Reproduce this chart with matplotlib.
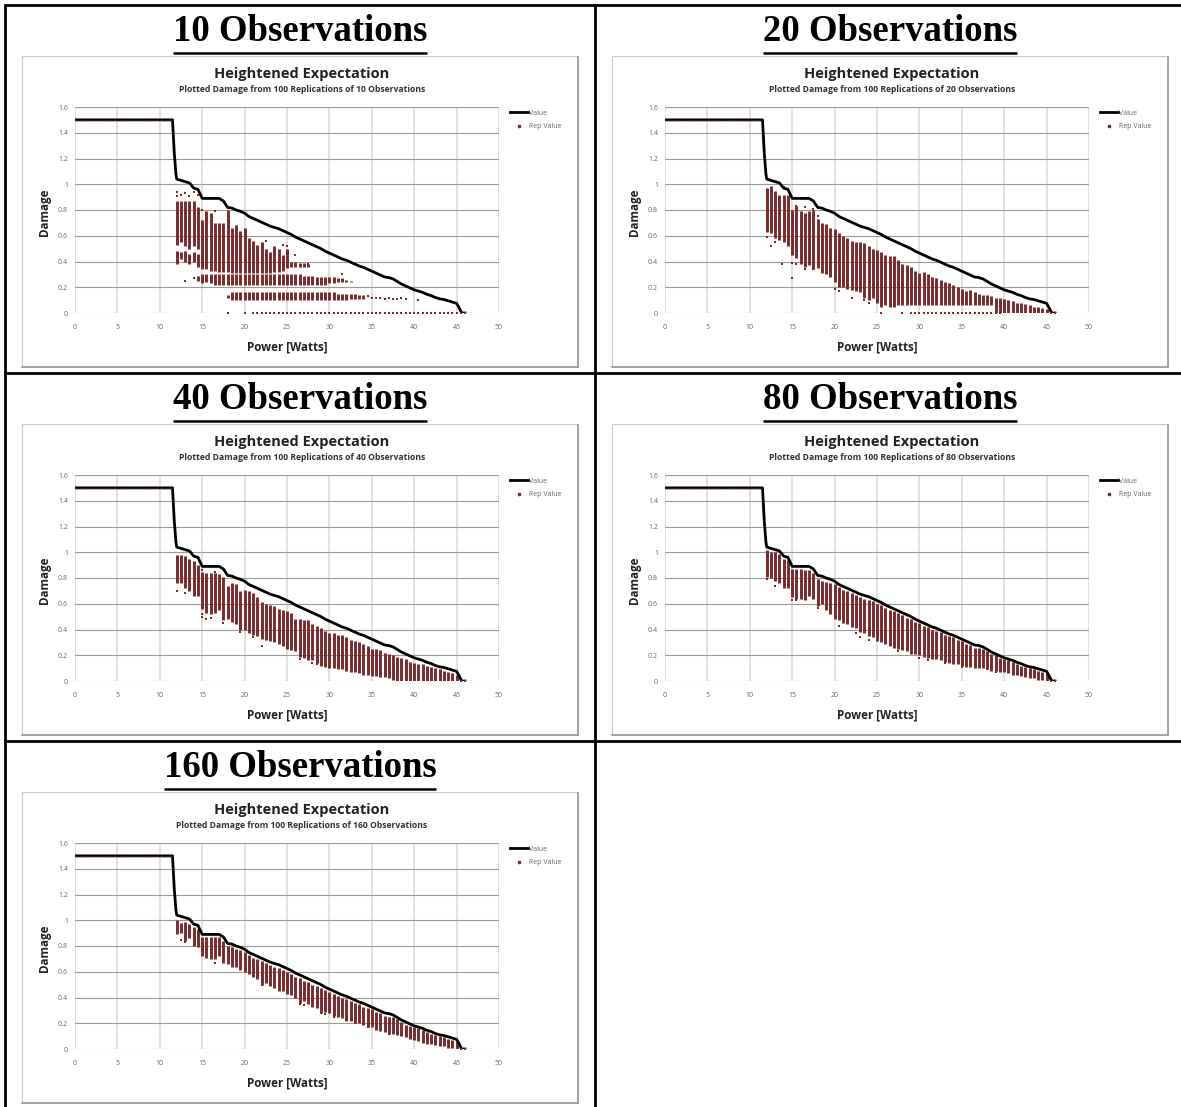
import matplotlib
matplotlib.use("Agg")
import matplotlib.pyplot as plt
from matplotlib.lines import Line2D
from matplotlib.patches import Rectangle

# figure size in pixels (dpi 100)
W, H = 1181, 1107

panel_titles = ["10 Observations", "20 Observations", "40 Observations",
                "80 Observations", "160 Observations"]
obs_counts = [10, 20, 40, 80, 160]

# true damage curve ("Value")
value_x = [0, 11.5, 11.7, 11.9,
           12.0, 12.5, 13.0, 13.5, 14.0, 14.5, 15.0, 15.5, 16.0, 16.5,
           17.0, 17.5, 18.0, 18.5, 19.0, 19.5, 20.0, 20.5, 21.0, 21.5,
           22.0, 22.5, 23.0, 23.5, 24.0, 24.5, 25.0, 25.5, 26.0, 26.5,
           27.0, 27.5, 28.0, 28.5, 29.0, 29.5, 30.0, 30.5, 31.0, 31.5,
           32.0, 32.5, 33.0, 33.5, 34.0, 34.5, 35.0, 35.5, 36.0, 36.5,
           37.0, 37.5, 38.0, 38.5, 39.0, 39.5, 40.0, 40.5, 41.0, 41.5,
           42.0, 42.5, 43.0, 43.5, 44.0, 44.5, 45.0, 45.3, 45.6, 46.0]
value_y = [1.5, 1.5, 1.25, 1.08,
           1.04, 1.03, 1.02, 1.01, 0.97, 0.96, 0.89, 0.89, 0.89, 0.89,
           0.89, 0.87, 0.82, 0.815, 0.80, 0.79, 0.775, 0.75, 0.735, 0.72,
           0.705, 0.69, 0.675, 0.665, 0.655, 0.64, 0.625, 0.61, 0.59, 0.575,
           0.56, 0.545, 0.53, 0.515, 0.50, 0.48, 0.465, 0.45, 0.435, 0.42,
           0.41, 0.395, 0.38, 0.365, 0.355, 0.34, 0.325, 0.31, 0.295, 0.28,
           0.275, 0.265, 0.245, 0.225, 0.21, 0.195, 0.18, 0.17, 0.16, 0.145,
           0.135, 0.12, 0.11, 0.105, 0.095, 0.085, 0.075, 0.04, 0.0, 0.0]

# flat part where all replications give 1.5, and the tail at 0
flat_x = [0, 11.5]
flat_y = [1.5, 1.5]
tail_x = [45.5, 46.0]
tail_y = [0.0, 0.0]

# column positions of replicated values
col_x = [12.0, 12.5, 13.0, 13.5, 14.0, 14.5, 15.0, 15.5, 16.0, 16.5,
         17.0, 17.5, 18.0, 18.5, 19.0, 19.5, 20.0, 20.5, 21.0, 21.5,
         22.0, 22.5, 23.0, 23.5, 24.0, 24.5, 25.0, 25.5, 26.0, 26.5,
         27.0, 27.5, 28.0, 28.5, 29.0, 29.5, 30.0, 30.5, 31.0, 31.5,
         32.0, 32.5, 33.0, 33.5, 34.0, 34.5, 35.0, 35.5, 36.0, 36.5,
         37.0, 37.5, 38.0, 38.5, 39.0, 39.5, 40.0, 40.5, 41.0, 41.5,
         42.0, 42.5, 43.0, 43.5, 44.0, 44.5, 45.0, 45.5]

# ---- 10 observations: banded clusters ----
c10a_x = col_x[:32]
hi10a = [0.87, 0.87, 0.87, 0.87, 0.87, 0.82, 0.72, 0.79, 0.78, 0.70,
         0.70, 0.70, 0.80, 0.66, 0.68, 0.64, 0.66, 0.58, 0.56, 0.53,
         0.55, 0.50, 0.47, 0.52, 0.50, 0.45, 0.50, 0.40, 0.40, 0.39,
         0.39, 0.38]
lo10a = [0.53, 0.55, 0.52, 0.50, 0.52, 0.50, 0.34, 0.34, 0.33, 0.33,
         0.32, 0.32, 0.32, 0.31, 0.31, 0.31, 0.31, 0.31, 0.31, 0.31,
         0.31, 0.31, 0.31, 0.32, 0.32, 0.33, 0.35, 0.36, 0.36, 0.36,
         0.36, 0.36]
c10s_x = col_x[:6]
hi10s = [0.48, 0.47, 0.48, 0.46, 0.47, 0.46]
lo10s = [0.38, 0.42, 0.40, 0.38, 0.40, 0.36]
c10b_x = col_x[5:42]
hi10b = [0.29, 0.30, 0.30, 0.30, 0.30, 0.30, 0.30, 0.30, 0.30, 0.30,
         0.30, 0.30, 0.30, 0.30, 0.30, 0.30, 0.30, 0.30, 0.30, 0.30,
         0.30, 0.30, 0.30, 0.30, 0.30, 0.29, 0.29, 0.29, 0.28, 0.28,
         0.28, 0.28, 0.28, 0.27, 0.27, 0.26, 0.25]
lo10b = [0.25, 0.23, 0.24, 0.23, 0.22, 0.22, 0.22, 0.22, 0.22, 0.22,
         0.22, 0.22, 0.22, 0.22, 0.22, 0.22, 0.22, 0.22, 0.22, 0.22,
         0.22, 0.22, 0.22, 0.22, 0.22, 0.22, 0.22, 0.22, 0.22, 0.22,
         0.22, 0.23, 0.23, 0.24, 0.24, 0.24, 0.24]
c10c_x = col_x[12:45]
hi10c = [0.14, 0.16, 0.16, 0.16, 0.16, 0.16, 0.16, 0.16, 0.16, 0.16,
         0.16, 0.16, 0.16, 0.16, 0.16, 0.16, 0.16, 0.16, 0.16, 0.16,
         0.16, 0.16, 0.16, 0.16, 0.16, 0.16, 0.15, 0.15, 0.15, 0.15,
         0.15, 0.14, 0.14]
lo10c = [0.12, 0.10, 0.10, 0.10, 0.10, 0.10, 0.10, 0.10, 0.10, 0.10,
         0.10, 0.10, 0.10, 0.10, 0.10, 0.10, 0.10, 0.10, 0.10, 0.10,
         0.10, 0.10, 0.10, 0.10, 0.10, 0.10, 0.10, 0.10, 0.10, 0.11,
         0.11, 0.11, 0.11]
dots10_x = [12.0, 12.0, 12.5, 13.0, 13.5, 14.0, 14.5, 15.0, 15.5, 16.5,
            13.0, 14.0, 22.5, 24.5, 25.0, 26.0, 27.5, 31.5,
            34.5, 35.0, 35.5, 36.0, 36.5, 37.0, 37.5, 38.0, 38.5, 39.0, 40.5]
dots10_y = [0.94, 0.91, 0.92, 0.93, 0.91, 0.94, 0.92, 0.80, 0.78, 0.79,
            0.25, 0.27, 0.56, 0.53, 0.52, 0.45, 0.38, 0.30,
            0.13, 0.12, 0.12, 0.12, 0.11, 0.12, 0.11, 0.11, 0.12, 0.11, 0.10]
zero10_x = [18.0, 20.0, 21.0, 21.5, 22.0, 22.5, 23.0, 23.5, 24.0, 24.5,
            25.0, 25.5, 26.0, 26.5, 27.0, 27.5, 28.0, 28.5, 29.0, 29.5,
            30.0, 30.5, 31.0, 31.5, 32.0, 32.5, 33.0, 33.5, 34.0, 34.5,
            35.0, 35.5, 36.0, 36.5, 37.0, 37.5, 38.0, 38.5, 39.0, 39.5,
            40.0, 40.5, 41.0, 41.5, 42.0, 42.5, 43.0, 43.5, 44.0, 44.5, 45.0]

# ---- 20 observations ----
hi20 = [0.97, 0.99, 0.95, 0.92, 0.92, 0.92, 0.80, 0.83, 0.79, 0.78,
        0.79, 0.80, 0.73, 0.70, 0.69, 0.66, 0.65, 0.62, 0.60, 0.58,
        0.56, 0.55, 0.55, 0.54, 0.52, 0.50, 0.49, 0.47, 0.45, 0.44,
        0.44, 0.41, 0.38, 0.37, 0.36, 0.33, 0.31, 0.32, 0.30, 0.28,
        0.27, 0.26, 0.24, 0.23, 0.22, 0.20, 0.19, 0.17, 0.18, 0.16,
        0.15, 0.14, 0.14, 0.13, 0.12, 0.12, 0.11, 0.10, 0.09, 0.08,
        0.08, 0.07, 0.06, 0.05, 0.05, 0.04, 0.03, 0.01]
lo20 = [0.63, 0.62, 0.58, 0.57, 0.55, 0.52, 0.45, 0.43, 0.38, 0.36,
        0.37, 0.34, 0.35, 0.31, 0.30, 0.28, 0.24, 0.20, 0.20, 0.19,
        0.18, 0.17, 0.16, 0.12, 0.10, 0.12, 0.08, 0.05, 0.06, 0.05,
        0.05, 0.06, 0.06, 0.06, 0.06, 0.06, 0.06, 0.06, 0.06, 0.06,
        0.06, 0.06, 0.06, 0.06, 0.06, 0.06, 0.06, 0.06, 0.06, 0.06,
        0.06, 0.06, 0.06, 0.06, 0.00, 0.00, 0.00, 0.00, 0.00, 0.00,
        0.00, 0.00, 0.00, 0.00, 0.00, 0.00, 0.00, 0.00]
dots20_x = [12.0, 12.5, 13.0, 13.8, 15.0, 15.0, 15.5, 16.5, 17.5, 14.0,
            15.5, 16.5, 17.5, 18.0, 20.0, 20.5, 22.0, 23.5, 24.0, 25.5]
dots20_y = [0.59, 0.52, 0.55, 0.38, 0.39, 0.27, 0.38, 0.34, 0.34, 0.98,
            0.83, 0.82, 0.81, 0.75, 0.19, 0.17, 0.12, 0.10, 0.08, 0.0]
zero20_x = [28.0, 29.0, 29.5, 30.0, 30.5, 31.0, 31.5, 32.0, 32.5, 33.0,
            33.5, 34.0, 34.5, 35.0, 35.5, 36.0, 36.5, 37.0, 37.5, 38.0,
            38.5, 39.0, 39.5]

# ---- 40 observations ----
hi40 = [0.98, 0.98, 0.97, 0.95, 0.93, 0.90, 0.85, 0.84, 0.84, 0.84,
        0.83, 0.81, 0.74, 0.76, 0.75, 0.70, 0.71, 0.70, 0.68, 0.65,
        0.61, 0.60, 0.59, 0.58, 0.56, 0.55, 0.54, 0.53, 0.48, 0.48,
        0.47, 0.47, 0.44, 0.43, 0.41, 0.39, 0.37, 0.37, 0.36, 0.36,
        0.34, 0.32, 0.31, 0.30, 0.29, 0.27, 0.25, 0.25, 0.24, 0.22,
        0.21, 0.20, 0.19, 0.18, 0.17, 0.15, 0.14, 0.13, 0.13, 0.12,
        0.11, 0.10, 0.09, 0.08, 0.07, 0.06, 0.05, 0.01]
lo40 = [0.76, 0.76, 0.72, 0.70, 0.66, 0.66, 0.56, 0.53, 0.52, 0.53,
        0.55, 0.47, 0.48, 0.46, 0.44, 0.40, 0.40, 0.37, 0.36, 0.35,
        0.33, 0.32, 0.31, 0.30, 0.29, 0.27, 0.25, 0.24, 0.23, 0.19,
        0.18, 0.16, 0.16, 0.14, 0.12, 0.11, 0.10, 0.10, 0.09, 0.09,
        0.08, 0.07, 0.07, 0.06, 0.05, 0.05, 0.04, 0.04, 0.03, 0.03,
        0.02, 0.01, 0.00, 0.00, 0.00, 0.00, 0.00, 0.00, 0.00, 0.00,
        0.00, 0.00, 0.00, 0.00, 0.00, 0.00, 0.00, 0.00]
dots40_x = [12.0, 13.0, 15.0, 15.0, 15.5, 16.0, 17.5, 19.5, 21.0, 22.0,
            26.5, 28.0, 28.5, 15.0, 16.5]
dots40_y = [0.70, 0.68, 0.52, 0.50, 0.48, 0.49, 0.45, 0.38, 0.34, 0.27,
            0.17, 0.14, 0.13, 0.86, 0.85]

# ---- 80 observations ----
hi80 = [1.02, 1.00, 1.00, 0.99, 0.95, 0.94, 0.87, 0.87, 0.87, 0.86,
        0.86, 0.84, 0.79, 0.78, 0.77, 0.76, 0.75, 0.73, 0.71, 0.70,
        0.68, 0.67, 0.65, 0.64, 0.63, 0.62, 0.60, 0.59, 0.57, 0.55,
        0.54, 0.53, 0.51, 0.49, 0.48, 0.46, 0.45, 0.43, 0.42, 0.40,
        0.39, 0.38, 0.36, 0.35, 0.34, 0.32, 0.31, 0.29, 0.28, 0.26,
        0.26, 0.25, 0.23, 0.21, 0.20, 0.18, 0.17, 0.16, 0.15, 0.13,
        0.12, 0.11, 0.10, 0.09, 0.08, 0.07, 0.06, 0.01]
lo80 = [0.81, 0.80, 0.78, 0.76, 0.72, 0.72, 0.65, 0.64, 0.64, 0.63,
        0.66, 0.64, 0.58, 0.60, 0.55, 0.52, 0.48, 0.47, 0.45, 0.44,
        0.42, 0.41, 0.38, 0.37, 0.35, 0.34, 0.31, 0.30, 0.29, 0.27,
        0.26, 0.25, 0.24, 0.23, 0.21, 0.21, 0.20, 0.19, 0.18, 0.17,
        0.17, 0.16, 0.15, 0.14, 0.13, 0.13, 0.12, 0.11, 0.11, 0.10,
        0.10, 0.10, 0.09, 0.08, 0.08, 0.07, 0.07, 0.06, 0.05, 0.05,
        0.04, 0.03, 0.02, 0.02, 0.01, 0.01, 0.00, 0.00]
dots80_x = [12.0, 13.0, 15.0, 15.5, 18.0, 19.5, 20.0, 20.5, 22.5, 23.0,
            24.0, 26.5, 27.5, 30.0, 31.0, 33.0, 35.0, 38.0, 39.0]
dots80_y = [0.79, 0.74, 0.63, 0.63, 0.57, 0.55, 0.51, 0.43, 0.37, 0.34,
            0.32, 0.29, 0.23, 0.18, 0.16, 0.14, 0.11, 0.09, 0.07]

# ---- 160 observations ----
hi160 = [1.00, 0.98, 0.99, 0.97, 0.95, 0.93, 0.87, 0.87, 0.87, 0.87,
         0.87, 0.84, 0.80, 0.79, 0.78, 0.77, 0.75, 0.73, 0.71, 0.70,
         0.68, 0.67, 0.65, 0.64, 0.63, 0.61, 0.60, 0.58, 0.56, 0.55,
         0.53, 0.52, 0.50, 0.49, 0.47, 0.46, 0.44, 0.43, 0.41, 0.40,
         0.39, 0.37, 0.36, 0.35, 0.33, 0.32, 0.31, 0.29, 0.28, 0.26,
         0.25, 0.25, 0.23, 0.21, 0.19, 0.18, 0.17, 0.16, 0.15, 0.13,
         0.12, 0.11, 0.10, 0.09, 0.08, 0.07, 0.06, 0.01]
lo160 = [0.89, 0.90, 0.84, 0.86, 0.80, 0.79, 0.72, 0.71, 0.70, 0.70,
         0.72, 0.67, 0.66, 0.64, 0.64, 0.61, 0.60, 0.58, 0.56, 0.54,
         0.50, 0.51, 0.49, 0.47, 0.45, 0.45, 0.43, 0.42, 0.40, 0.36,
         0.37, 0.35, 0.33, 0.32, 0.28, 0.29, 0.28, 0.26, 0.25, 0.24,
         0.22, 0.22, 0.20, 0.20, 0.19, 0.17, 0.17, 0.15, 0.14, 0.13,
         0.12, 0.12, 0.11, 0.10, 0.09, 0.08, 0.07, 0.06, 0.05, 0.04,
         0.04, 0.03, 0.02, 0.02, 0.01, 0.01, 0.00, 0.00]
dots160_x = [12.5, 13.0, 16.5, 22.0, 26.5, 27.0, 29.0, 29.5, 30.5, 32.0,
             33.0, 34.5, 37.0, 39.5]
dots160_y = [0.85, 0.83, 0.67, 0.50, 0.35, 0.34, 0.28, 0.27, 0.25, 0.23,
             0.20, 0.17, 0.12, 0.09]

REP = "#7a2a2a"
CHART_FONT = ["Open Sans", "DejaVu Sans"]
BAR_LW = 2.1

fig = plt.figure(figsize=(W / 100, H / 100), dpi=100)

# background layer: table grid and chart frames (pixel coordinates)
bg = fig.add_axes([0, 0, 1, 1])
bg.set_xlim(0, W)
bg.set_ylim(H, 0)
bg.axis("off")
for y in [5, 373, 741]:
    bg.plot([4, W], [y, y], color="black", lw=2.0, solid_capstyle="butt")
bg.plot([5, 5], [4, H], color="black", lw=2.0, solid_capstyle="butt")
bg.plot([595, 595], [4, H], color="black", lw=2.0, solid_capstyle="butt")


def px_rect(l, t, r, b):
    return [l / W, 1 - b / H, (r - l) / W, (b - t) / H]


def draw_panel(idx, col, row):
    dx = col * 590
    dy = row * 368
    # chart frame with a light shadow
    bg.add_patch(Rectangle((22 + dx, 56 + dy), 556, 311, fill=False,
                           ec="#c8c8c8", lw=0.8))
    bg.plot([578 + dx, 578 + dx], [57 + dy, 367 + dy], color="#a0a0a0", lw=1.3)
    bg.plot([22 + dx, 578 + dx], [367 + dy, 367 + dy], color="#a0a0a0", lw=1.3)

    # header above the chart, underlined
    t = fig.text((300 + dx) / W, 1 - (41 + dy) / H, panel_titles[idx],
                 ha="center", va="baseline", fontsize=26.5, fontweight="bold",
                 family="Liberation Serif")
    r = fig.canvas.get_renderer()
    bb = t.get_window_extent(renderer=r)
    bg.plot([bb.x0, bb.x1], [H - bb.y0 + 4, H - bb.y0 + 4],
            color="black", lw=1.8, solid_capstyle="butt")

    ax = fig.add_axes(px_rect(75 + dx, 107 + dy, 499 + dx, 313 + dy))
    ax.set_facecolor("none")
    ax.set_xlim(0, 50)
    ax.set_ylim(0, 1.6)
    ax.set_xticks([0, 5, 10, 15, 20, 25, 30, 35, 40, 45, 50])
    ax.set_yticks([0, 0.2, 0.4, 0.6, 0.8, 1.0, 1.2, 1.4, 1.6])
    ax.set_yticklabels(["0", "0.2", "0.4", "0.6", "0.8", "1", "1.2", "1.4", "1.6"])
    ax.tick_params(length=0, labelsize=5.0, labelcolor="#666666")
    ax.tick_params(axis="x", pad=8)
    ax.tick_params(axis="y", pad=5)
    for s in ax.spines.values():
        s.set_visible(False)
    ax.grid(axis="y", color="#9a9a9a", lw=0.8)
    ax.grid(axis="x", color="#d8d8d8", lw=1.1)
    ax.set_axisbelow(True)
    for lab in ax.get_xticklabels() + ax.get_yticklabels():
        lab.set_family(CHART_FONT)

    n = obs_counts[idx]
    if n == 10:
        ax.vlines(c10a_x, lo10a, hi10a, colors=REP, lw=BAR_LW)
        ax.vlines(c10s_x, lo10s, hi10s, colors=REP, lw=BAR_LW)
        ax.vlines(c10b_x, lo10b, hi10b, colors=REP, lw=BAR_LW)
        ax.vlines(c10c_x, lo10c, hi10c, colors=REP, lw=BAR_LW)
        ax.scatter(dots10_x, dots10_y, s=3, marker="s", color=REP, lw=0)
        ax.scatter(zero10_x, [0] * len(zero10_x), s=3, marker="s", color=REP, lw=0)
    else:
        hi, lo, dxs, dys = {20: (hi20, lo20, dots20_x, dots20_y),
                            40: (hi40, lo40, dots40_x, dots40_y),
                            80: (hi80, lo80, dots80_x, dots80_y),
                            160: (hi160, lo160, dots160_x, dots160_y)}[n]
        ax.vlines(col_x, lo, hi, colors=REP, lw=BAR_LW)
        ax.scatter(dxs, dys, s=3, marker="s", color=REP, lw=0)
        if n == 20:
            ax.scatter(zero20_x, [0] * len(zero20_x), s=3, marker="s",
                       color=REP, lw=0)

    ax.plot(value_x, value_y, color="black", lw=2.0, zorder=4)
    ax.plot(flat_x, flat_y, color=REP, lw=0.8, ls=(0, (1, 1)), zorder=5)
    ax.scatter(tail_x, tail_y, s=3, marker="s", color=REP, lw=0, zorder=5)

    ax.text(0.535, 1.16, "Heightened Expectation", transform=ax.transAxes,
            ha="center", va="center", fontsize=10.5, fontweight="bold",
            family=CHART_FONT, color="#222222")
    ax.text(0.535, 1.083,
            "Plotted Damage from 100 Replications of %d Observations" % n,
            transform=ax.transAxes, ha="center", va="center", fontsize=6.2,
            fontweight="bold", family=CHART_FONT, color="#333333")
    ax.set_xlabel("Power [Watts]", fontsize=8.4, fontweight="bold",
                  family=CHART_FONT, color="#222222", va="center")
    ax.xaxis.set_label_coords(0.5, -(347 - 313) / 206)
    ax.set_ylabel("Damage", fontsize=8.4, fontweight="bold",
                  family=CHART_FONT, color="#222222", va="center")
    ax.yaxis.set_label_coords(-(75 - 45) / 424, 0.49)

    handles = [Line2D([], [], color="black", lw=2.0),
               Line2D([], [], color=REP, marker="s", ms=1.5, ls="none")]
    leg = ax.legend(handles, ["Value", "Rep Value"], loc="upper left",
                    bbox_to_anchor=(1.02, 1.0), frameon=False, fontsize=5.0,
                    handlelength=2.6, handletextpad=0.05, labelspacing=0.9,
                    borderaxespad=0)
    for txt in leg.get_texts():
        txt.set_color("#666666")
        txt.set_family(CHART_FONT)


positions = [(0, 0), (1, 0), (0, 1), (1, 1), (0, 2)]
for i, (c, rw) in enumerate(positions):
    draw_panel(i, c, rw)

fig.savefig("out.png", dpi=100)
